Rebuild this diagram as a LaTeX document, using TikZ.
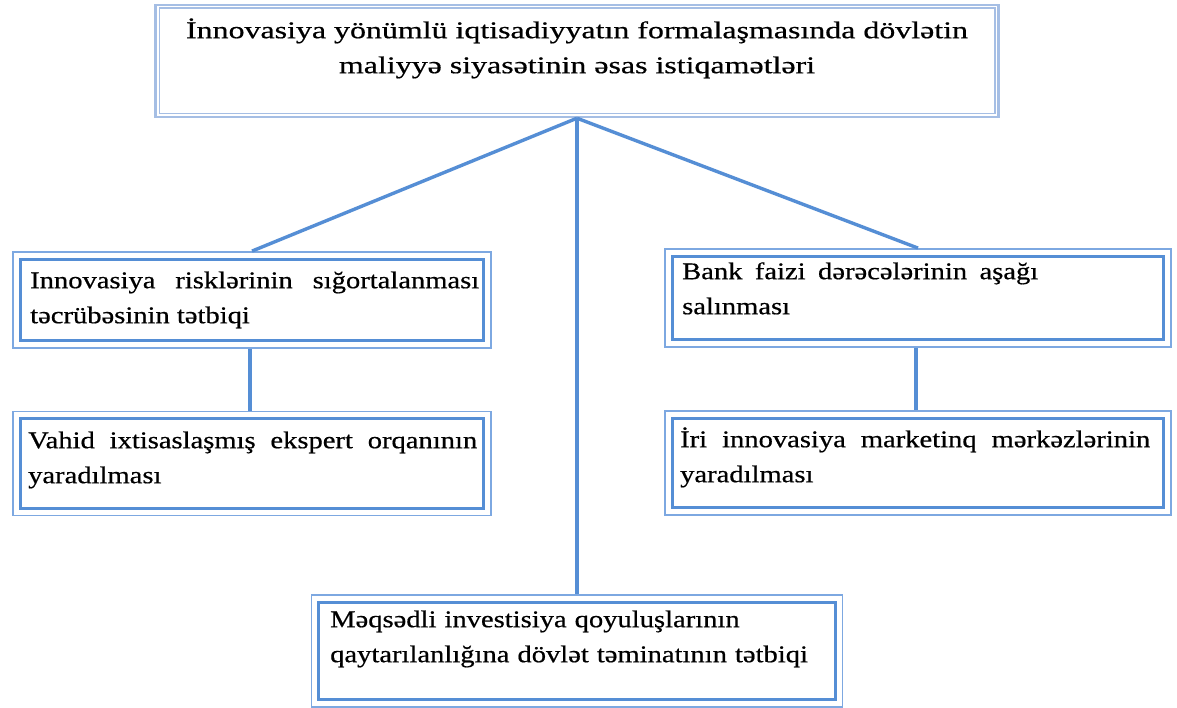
\documentclass[tikz,border=0pt]{standalone}
\usepackage{fontspec}
\setmainfont{Liberation Serif}[FakeStretch=1.19,FakeBold=0.6]
\newfontfamily\titlefont{Liberation Serif}[FakeStretch=1.33,FakeBold=0.6]
\definecolor{lineblue}{RGB}{85,142,213}
\definecolor{outerblue}{RGB}{125,168,225}
\definecolor{paleblue}{RGB}{165,190,228}
\newcommand{\mystrut}{\rule{0pt}{24pt}}
\tikzset{
  outerbox/.style={draw=outerblue, line width=1.8pt, inner sep=0pt, minimum width=#1},
  topbox/.style={draw=paleblue, line width=2.4pt, inner sep=0pt},
  connector/.style={draw=lineblue, line width=3.4pt},
  boxtext/.style={inner sep=0pt, anchor=north west, align=justify, font=\fontsize{24}{35}\selectfont},
  titletext/.style={inner sep=0pt, anchor=north, align=center, font=\titlefont\fontsize{24}{35}\selectfont},
  innerline/.style={draw=lineblue, line width=3pt},
  innerpale/.style={draw=paleblue, line width=1.6pt}
}
\begin{document}
\begin{tikzpicture}[x=1pt,y=-1pt]
\useasboundingbox[fill=white] (0,0) rectangle (1177,708);

% boxes (outer rectangles)
\node[topbox, minimum width=843pt, minimum height=112pt] (top) at (577,61) {};
\node[outerbox=478pt, minimum height=96pt] (l1) at (252,300) {};
\node[outerbox=478pt, minimum height=104pt] (l2) at (252,463.5) {};
\node[outerbox=506pt, minimum height=98pt] (r1) at (918,298) {};
\node[outerbox=506pt, minimum height=104pt] (r2) at (918,463) {};
\node[outerbox=531pt, minimum height=112pt] (b) at (577,651) {};

% inner rectangles
\draw[innerpale] ([shift={(5,4.5)}]top.north west) rectangle ([shift={(-5,-4.5)}]top.south east);
\foreach \n in {l1,l2,r1,r2,b}{
  \draw[innerline] ([shift={(8,8)}]\n.north west) rectangle ([shift={(-8,-8)}]\n.south east);
}

% connectors
\coordinate (hub) at (top.south);
\draw[connector] (hub) -- (l1.north);
\draw[connector] (hub) -- (r1.north);
\draw[connector] (hub) -- (b.north);
\draw[connector] ([xshift=-2pt]l1.south) -- ([xshift=-2pt]l2.north);
\draw[connector] ([xshift=-2pt]r1.south) -- ([xshift=-2pt]r2.north);

% texts
\node[titletext] (tt) at (577,14) {\mystrut İnnovasiya yönümlü iqtisadiyyatın formalaşmasında dövlətin\\maliyyə siyasətinin əsas istiqamətləri};
\node[boxtext, text width=449pt] (tl1) at (30,264) {\mystrut Innovasiya risklərinin sığortalanması təcrübəsinin tətbiqi};
\node[boxtext, text width=449pt] (tl2) at (28,424) {\mystrut Vahid ixtisaslaşmış ekspert orqanının yaradılması};
\node[boxtext, text width=356pt] (tr1) at (682,255) {\mystrut Bank faizi dərəcələrinin aşağı salınması};
\node[boxtext, text width=470pt] (tr2) at (680,423) {\mystrut İri innovasiya marketinq mərkəzlərinin yaradılması};
\node[boxtext, align=left, text width=500pt] (tb) at (330,603) {\mystrut Məqsədli investisiya qoyuluşlarının\\qaytarılanlığına dövlət təminatının tətbiqi};
\end{tikzpicture}
\end{document}
